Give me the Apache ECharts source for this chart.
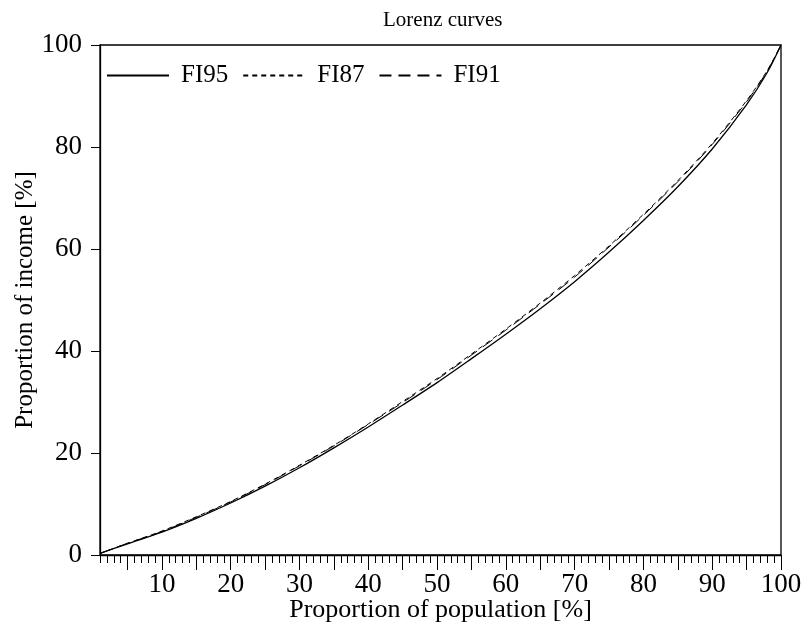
<!DOCTYPE html>
<html>
<head>
<meta charset="utf-8">
<script src="https://cdn.jsdelivr.net/npm/echarts@6/dist/echarts.min.js"></script>
<style>html,body{margin:0;padding:0;background:#fff;}#c{width:809px;height:636px;}</style>
</head>
<body>
<div id="c"></div>
<script>
// Data
var xs   = [1, 5, 10, 15, 20, 25, 30, 35, 40, 45, 50, 55, 60, 65, 70, 75, 80, 85, 90, 95, 98, 100];
var fi95 = [0.3, 2.2, 4.5, 7.2, 10.2, 13.5, 17.1, 21.0, 25.1, 29.4, 33.8, 38.5, 43.3, 48.3, 53.6, 59.4, 65.6, 72.2, 79.6, 88.3, 94.6, 100];
var fi87 = [0.3, 2.3, 4.7, 7.5, 10.5, 13.9, 17.6, 21.5, 25.7, 30.1, 34.6, 39.4, 44.3, 49.4, 54.8, 60.6, 66.8, 73.4, 80.7, 89.1, 95.0, 100];
var fi91 = [0.3, 2.3, 4.6, 7.4, 10.4, 13.8, 17.5, 21.4, 25.6, 29.9, 34.4, 39.2, 44.1, 49.2, 54.5, 60.4, 66.6, 73.2, 80.5, 88.9, 94.9, 100];
var xLabelTicks = [10, 20, 30, 40, 50, 60, 70, 80, 90, 100];
var xMajorTicks = [5, 10, 15, 20, 25, 30, 35, 40, 45, 50, 55, 60, 65, 70, 75, 80, 85, 90, 95, 100];
var xMinorTicks = [];
for (var i = 1; i <= 100; i++) xMinorTicks.push(i);
var seriesNames = ['FI95', 'FI87', 'FI91'];

function pairs(ys) { return xs.map(function (x, i) { return [x, ys[i]]; }); }

var FONT = 'Liberation Serif';
var chart = echarts.init(document.getElementById('c'), null, { renderer: 'canvas' });
chart.setOption({
  animation: false,
  backgroundColor: '#fff',
  textStyle: { fontFamily: FONT },
  title: {
    text: 'Lorenz curves',
    left: 378, top: 5,
    textStyle: { fontFamily: FONT, fontSize: 21, fontWeight: 'normal', color: '#000' }
  },
  legend: {
    data: seriesNames,
    left: 101, top: 58,
    itemWidth: 62, itemHeight: 14, itemGap: 14,
    itemStyle: { opacity: 0 },
    textStyle: { fontFamily: FONT, fontSize: 25, color: '#000', padding: [0, 0, 0, 7] }
  },
  grid: { left: 100, right: 28, top: 45, bottom: 81, containLabel: false, outerBoundsMode: 'none',
    show: true, borderColor: '#000', borderWidth: 1.3, backgroundColor: 'transparent' },
  xAxis: [{
    type: 'value', min: 1, max: 100,
    name: 'Proportion of population [%]', nameLocation: 'middle', nameGap: 42, nameMoveOverlap: false,
    nameTextStyle: { fontFamily: FONT, fontSize: 26, color: '#000' },
    axisLine: { show: true, lineStyle: { color: '#000', width: 1.3 } },
    axisTick: { show: true, customValues: xMajorTicks, length: 15, inside: false, lineStyle: { color: '#000', width: 1 } },
    axisLabel: { customValues: xLabelTicks, fontFamily: FONT, fontSize: 27, color: '#000', margin: 16 },
    splitLine: { show: false }
  }, {
    type: 'value', min: 1, max: 100, position: 'bottom', offset: 0,
    axisLine: { show: false },
    axisTick: { show: true, customValues: xMinorTicks, length: 8, lineStyle: { color: '#000', width: 1 } },
    axisLabel: { show: false },
    splitLine: { show: false }
  }],
  yAxis: {
    type: 'value', min: 0, max: 100, interval: 20,
    name: 'Proportion of income [%]', nameLocation: 'middle', nameGap: 62, nameMoveOverlap: false,
    nameTextStyle: { fontFamily: FONT, fontSize: 25, color: '#000' },
    axisLine: { show: true, lineStyle: { color: '#000', width: 1.3 } },
    axisTick: { show: true, length: 9, lineStyle: { color: '#000', width: 1 } },
    axisLabel: { fontFamily: FONT, fontSize: 27, color: '#000', margin: 18 },
    splitLine: { show: false }
  },
  series: [
    { name: 'FI95', type: 'line', data: pairs(fi95), smooth: 0.3, symbol: 'none', color: '#000',
      lineStyle: { color: '#000', width: 1.3, type: 'solid' } },
    { name: 'FI87', type: 'line', data: pairs(fi87), smooth: 0.3, symbol: 'none', color: '#000',
      lineStyle: { color: '#000', width: 1, type: [5, 4] } },
    { name: 'FI91', type: 'line', data: pairs(fi91), smooth: 0.3, symbol: 'none', color: '#000',
      lineStyle: { color: '#000', width: 1, type: [12, 7] } }
  ]
});
</script>
</body>
</html>
